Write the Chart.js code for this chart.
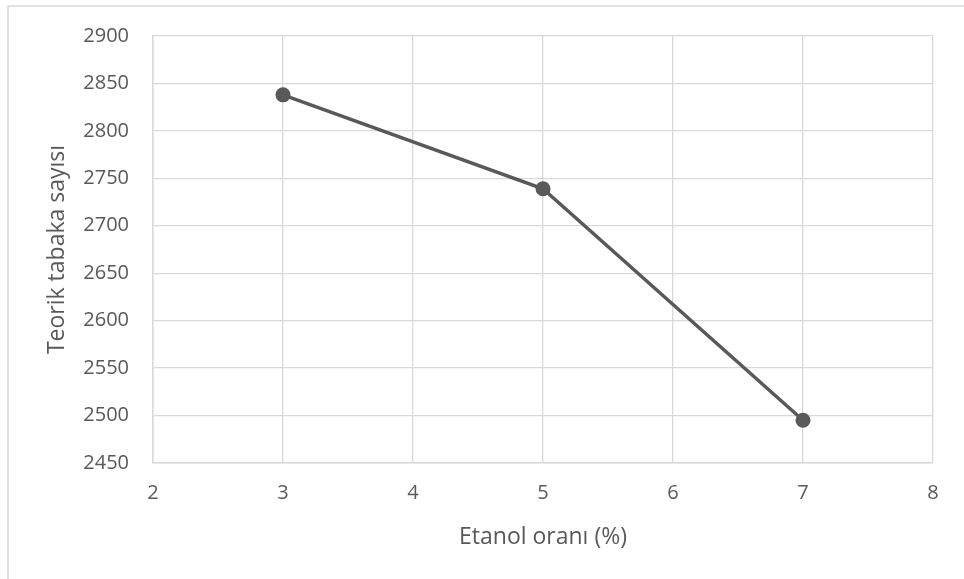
<!DOCTYPE html>
<html>
<head>
<meta charset="utf-8">
<script src="https://cdn.jsdelivr.net/npm/chart.js@4.4.1/dist/chart.umd.min.js"></script>
<style>
    html, body { margin: 0; padding: 0; background: #ffffff; }
    #wrap { width: 964px; height: 579px; }
</style>
</head>
<body>
<div id="wrap"><canvas id="myChart" width="964" height="579"></canvas></div>
<script>
// Etanol oranı vs teorik tabaka sayısı
const etanolOrani = [3, 5, 7];
const tabakaSayisi = [2838, 2739, 2495];
const xTicks = [2, 3, 4, 5, 6, 7, 8];
const yTicks = [2450, 2500, 2550, 2600, 2650, 2700, 2750, 2800, 2850, 2900];

const textColor = '#595959';
const gridColor = '#d9d9d9';
const fontFamily = "'Open Sans', sans-serif";

// Light frame around the whole chart
const frame = {
    id: 'frame',
    beforeDraw(chart) {
        const ctx = chart.ctx;
        ctx.save();
        ctx.strokeStyle = gridColor;
        ctx.lineWidth = 1.5;
        ctx.strokeRect(8, 6, 1200, 1200);
        ctx.restore();
    }
};

const points = etanolOrani.map((x, i) => ({ x: x, y: tabakaSayisi[i] }));

const config = {
    type: 'scatter',
    data: {
        datasets: [{
            data: points,
            showLine: true,
            borderColor: textColor,
            backgroundColor: textColor,
            borderWidth: 3.5,
            pointRadius: 7.5,
            pointHoverRadius: 7.5,
            pointBorderWidth: 0
        }]
    },
    options: {
        responsive: false,
        animation: false,
        layout: { padding: { top: 34, right: 31, left: 0, bottom: 0 } },
        plugins: {
            legend: { display: false },
            tooltip: { enabled: false }
        },
        scales: {
            x: {
                type: 'linear',
                min: xTicks[0],
                max: xTicks[xTicks.length - 1],
                afterBuildTicks: axis => { axis.ticks = xTicks.map(v => ({ value: v })); },
                afterFit: axis => { axis.height = 116; },
                grid: { color: gridColor, lineWidth: 1.3, drawTicks: false },
                border: { color: gridColor, width: 1.5 },
                ticks: {
                    color: textColor,
                    font: { family: fontFamily, size: 20 },
                    padding: 18,
                    callback: v => String(v)
                },
                title: {
                    display: true,
                    text: 'Etanol oranı (%)',
                    color: textColor,
                    font: { family: fontFamily, size: 23 },
                    padding: { top: 0, bottom: 28 }
                }
            },
            y: {
                type: 'linear',
                min: yTicks[0],
                max: yTicks[yTicks.length - 1],
                afterBuildTicks: axis => { axis.ticks = yTicks.map(v => ({ value: v })); },
                afterFit: axis => { axis.width = 153; },
                grid: { color: gridColor, lineWidth: 1.3, drawTicks: false },
                border: { color: gridColor, width: 1.5 },
                ticks: {
                    color: textColor,
                    font: { family: fontFamily, size: 20 },
                    padding: 24,
                    callback: v => String(v)
                },
                title: {
                    display: true,
                    text: 'Teorik tabaka sayısı',
                    color: textColor,
                    font: { family: fontFamily, size: 23 },
                    padding: { top: 44, bottom: 0 }
                }
            }
        }
    },
    plugins: [frame]
};

const ctx = document.getElementById('myChart').getContext('2d');
const myChart = new Chart(ctx, config);
</script>
</body>
</html>
